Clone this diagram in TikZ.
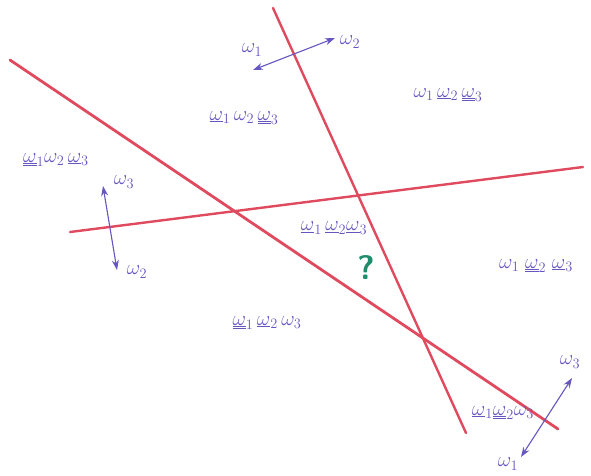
\documentclass[tikz,border=0pt]{standalone}
\usetikzlibrary{arrows.meta}
\definecolor{redline}{HTML}{E04A5F}
\definecolor{ink}{HTML}{6656C0}
\definecolor{qgreen}{HTML}{1F8C6C}
\newcommand{\uo}[1]{\underline{\omega}_{#1}}
\newcommand{\uuo}[1]{\underline{\underline{\omega}}_{#1}}
\tikzset{
  cut/.style={draw=redline, line width=2.4pt, line cap=round},
  dir/.style={draw=ink, line width=1.1pt, {Stealth[length=10pt,width=7pt]}-{Stealth[length=10pt,width=7pt]}},
  lab/.style={text=ink, font=\fontsize{22}{26}\selectfont, inner sep=1pt},
  reg/.style={text=ink, font=\fontsize{21}{25}\selectfont, inner sep=1pt}
}
\begin{document}
\begin{tikzpicture}[x=1pt,y=-1pt]
\useasboundingbox[fill=white] (0,0) rectangle (591,475);
% cutting lines
\coordinate (a1) at (10,60);
\coordinate (a2) at (558,429);
\coordinate (b1) at (273,8);
\coordinate (b2) at (466,433);
\coordinate (c1) at (70,232);
\coordinate (c2) at (583,167);
\draw[cut, line width=2.8pt] (a1) -- (a2);
\draw[cut] (b1) -- (b2);
\draw[cut] (c1) -- (c2);
% direction arrows
\node[lab] (w1t) at (252,50) {$\omega_1$};
\node[lab] (w2t) at (350,42) {$\omega_2$};
\coordinate (t1) at (253,70);
\coordinate (t2) at (335,38);
\draw[dir] (t1) -- (t2);
\node[lab] (w3l) at (124,182) {$\omega_3$};
\node[lab] (w2l) at (137,272) {$\omega_2$};
\coordinate (l1) at (103,186);
\coordinate (l2) at (117,270);
\draw[dir] (l1) -- (l2);
\node[lab] (w3r) at (570,362) {$\omega_3$};
\node[lab] (w1r) at (508,464) {$\omega_1$};
\coordinate (r1) at (572,378);
\coordinate (r2) at (521,457);
\draw[dir] (r1) -- (r2);
% region labels
\node[reg] (R1) at (244,118) {$\uo{1}\,\omega_2\,\uuo{3}$};
\node[reg] (R2) at (448,95) {$\omega_1\,\uo{2}\,\uuo{3}$};
\node[reg] (R3) at (56,160) {$\uuo{1}\omega_2\,\uo{3}$};
\node[reg] (R4) at (334,228) {$\uo{1}\,\uo{2}\uo{3}$};
\node[reg] (R5) at (536,266) {$\omega_1\;\uuo{2}\;\uo{3}$};
\node[reg] (R6) at (267,323) {$\uuo{1}\,\uo{2}\,\omega_3$};
\node[reg] (R7) at (503,413) {$\uo{1}\uuo{2}\omega_3$};
\node[text=qgreen, font=\sffamily\bfseries\fontsize{34}{38}\selectfont] (q) at (366,268) {?};
\end{tikzpicture}
\end{document}
